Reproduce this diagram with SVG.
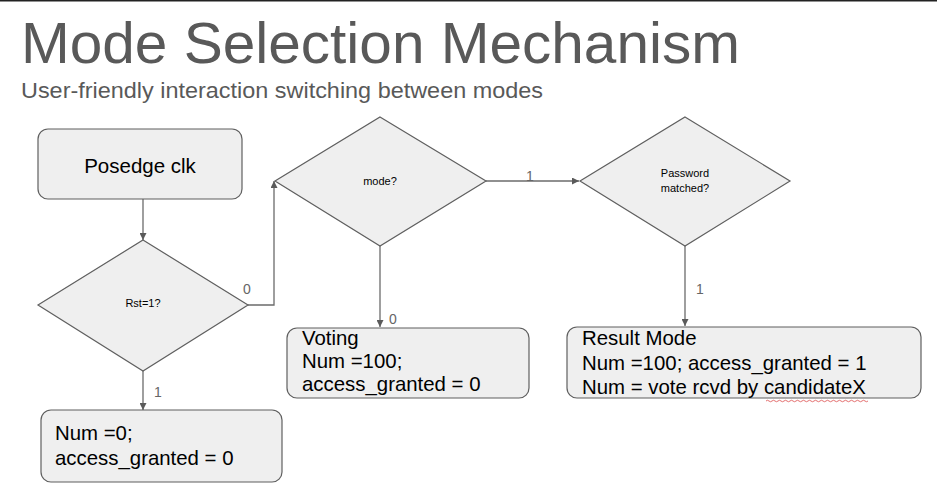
<svg xmlns="http://www.w3.org/2000/svg" width="938" height="500" viewBox="0 0 938 500">
<style>
.shape{fill:#efefef;stroke:#5f5f5f;stroke-width:1.2}
.conn{fill:none;stroke:#6b6b6b;stroke-width:1.3}
.lbl{font-family:"Liberation Sans",Arial,sans-serif;font-size:14px;fill:#666}
.small{font-family:"Liberation Sans",Arial,sans-serif;font-size:11px;fill:#000;text-anchor:middle}
.body{font-family:"Liberation Sans",Arial,sans-serif;font-size:20.4px;fill:#000}
</style>
<defs>
<marker id="arr" viewBox="0 0 10 10" refX="10" refY="5" markerWidth="7" markerHeight="7" markerUnits="userSpaceOnUse" orient="auto">
<path d="M0,0 L10,5 L0,10 z" fill="#5a5a5a"/>
</marker>
</defs>
<rect width="938" height="500" fill="#fff"/>
<line x1="0" y1="0.8" x2="937" y2="0.8" stroke="#222" stroke-width="1.6"/>
<text x="21" y="63" font-family="'Liberation Sans',Arial,sans-serif" font-size="58" fill="#595959" textLength="719" lengthAdjust="spacingAndGlyphs">Mode Selection Mechanism</text>
<text x="21" y="98" font-family="'Liberation Sans',Arial,sans-serif" font-size="22" fill="#595959" textLength="522" lengthAdjust="spacingAndGlyphs">User-friendly interaction switching between modes</text>

<g id="connectors">
<line class="conn" x1="143" y1="199" x2="143" y2="240" marker-end="url(#arr)"/>
<polyline class="conn" points="248,305 274,305 274,181" marker-end="url(#arr)"/>
<line class="conn" x1="486" y1="181" x2="579" y2="181" marker-end="url(#arr)"/>
<line class="conn" x1="380" y1="246" x2="380" y2="327" marker-end="url(#arr)"/>
<line class="conn" x1="685" y1="246" x2="685" y2="326" marker-end="url(#arr)"/>
<line class="conn" x1="143" y1="371" x2="143" y2="410" marker-end="url(#arr)"/>
<text class="lbl" x="243" y="294">0</text>
<text class="lbl" x="526" y="181">1</text>
<text class="lbl" x="389" y="324">0</text>
<text class="lbl" x="696" y="294">1</text>
<text class="lbl" x="154" y="397">1</text>
</g>

<g id="posedge">
<rect class="shape" x="38" y="129" width="204" height="70" rx="10"/>
<text x="140" y="173" font-family="'Liberation Sans',Arial,sans-serif" font-size="20.5" text-anchor="middle">Posedge clk</text>
</g>

<g id="rst">
<polygon class="shape" points="143,240 248,305 143,371 38,305"/>
<text class="small" x="143" y="307">Rst=1?</text>
</g>

<g id="mode">
<polygon class="shape" points="380,117 486,181 380,246 275,181"/>
<text class="small" x="380" y="185">mode?</text>
</g>

<g id="password">
<polygon class="shape" points="685,117 790,181 685,246 580,181"/>
<text class="small" x="685" y="177">Password</text>
<text class="small" x="685" y="192">matched?</text>
</g>

<g id="voting">
<rect class="shape" x="287" y="328" width="242" height="70" rx="10"/>
<text class="body" x="302" y="345">Voting</text>
<text class="body" x="302" y="368">Num =100;</text>
<text class="body" x="302" y="391">access_granted = 0</text>
</g>

<g id="result">
<rect class="shape" x="567" y="327" width="354" height="71" rx="10"/>
<text class="body" x="582" y="345">Result Mode</text>
<text class="body" x="582" y="370">Num =100; access_granted = 1</text>
<text class="body" x="582" y="394">Num = vote rcvd by candidateX</text>
<path d="M766,401 q1.5,-1.5 3,0 t3,0 t3,0 t3,0 t3,0 t3,0 t3,0 t3,0 t3,0 t3,0 t3,0 t3,0 t3,0 t3,0 t3,0 t3,0 t3,0 t3,0 t3,0 t3,0 t3,0 t3,0 t3,0 t3,0 t3,0 t3,0 t3,0 t3,0 t3,0 t3,0 t3,0 t3,0 t3,0 t3,0" fill="none" stroke="#e06060" stroke-width="0.9"/>
</g>

<g id="reset">
<rect class="shape" x="41" y="410" width="241" height="72" rx="10"/>
<text class="body" x="55" y="440">Num =0;</text>
<text class="body" x="55" y="465">access_granted = 0</text>
</g>
</svg>
